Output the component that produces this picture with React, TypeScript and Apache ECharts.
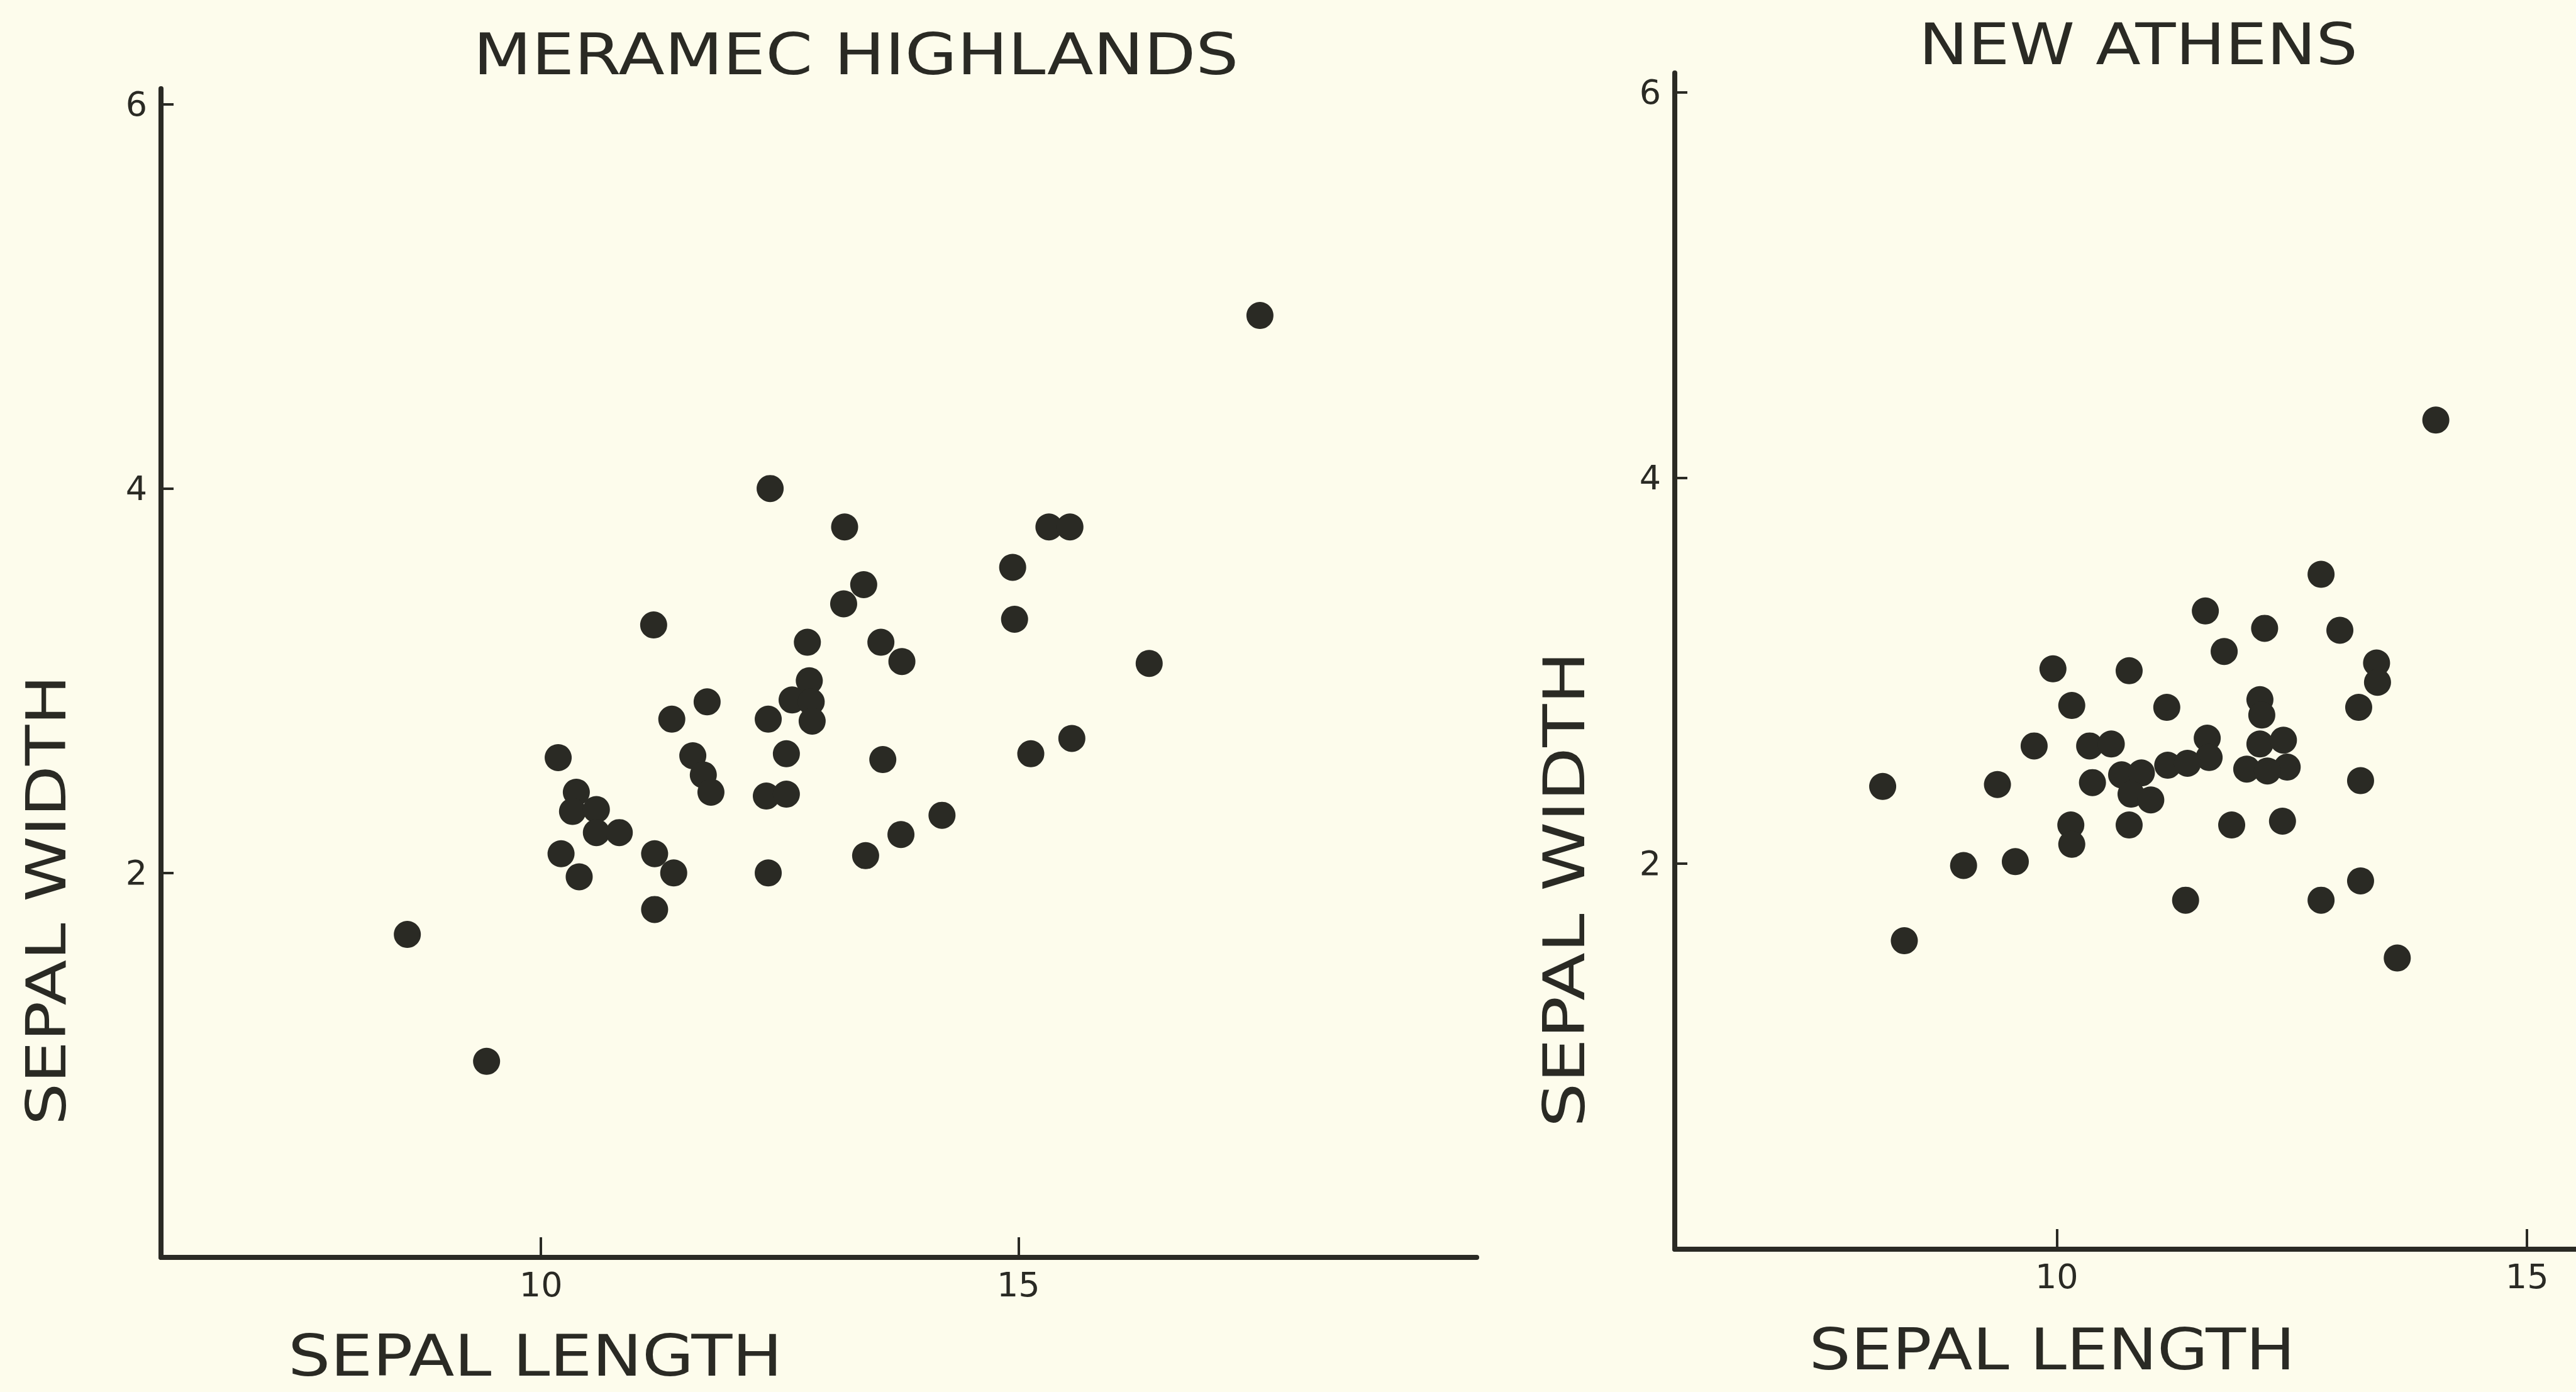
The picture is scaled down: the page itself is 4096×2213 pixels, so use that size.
import React, { useEffect, useRef } from "react";
import * as echarts from "echarts";

// Meramec Highlands: sepal length (x) and sepal width (y)
const meramecLength = [
  12.4, 13.18, 15.32, 15.54, 14.94, 13.38, 13.17, 11.18, 14.96, 12.79, 13.56, 13.78, 16.37,
  12.81, 12.63, 12.83, 12.84, 11.74, 11.37, 12.38, 10.18, 12.57, 13.58, 15.13, 15.56, 11.59,
  11.7, 11.78, 10.37, 10.33, 10.58, 10.58, 10.82, 12.36, 12.57, 14.2, 13.77, 13.4, 10.21,
  10.4, 11.19, 11.39, 12.38, 11.19, 9.43, 8.6, 17.53,
];
const meramecWidth = [
  4.0, 3.8, 3.8, 3.8, 3.59, 3.5, 3.4, 3.29, 3.32, 3.2, 3.2, 3.1, 3.09,
  3.0, 2.9, 2.89, 2.79, 2.89, 2.8, 2.8, 2.6, 2.62, 2.59, 2.62, 2.7, 2.61,
  2.51, 2.42, 2.42, 2.32, 2.33, 2.21, 2.21, 2.4, 2.41, 2.3, 2.2, 2.09, 2.1,
  1.98, 2.1, 2.0, 2.0, 1.81, 1.02, 1.68, 4.9,
];

// New Athens: sepal length (x) and sepal width (y)
const athensLength = [
  12.81, 11.58, 12.21, 13.01, 11.78, 9.96, 10.77, 13.4, 13.41, 10.16, 11.17, 12.16, 13.21,
  12.18, 9.76, 10.35, 10.58, 11.6, 11.62, 11.18, 11.39, 12.16, 12.41, 12.45, 12.02, 12.24,
  10.69, 10.9, 10.38, 10.79, 11.0, 8.15, 9.37, 13.23, 10.15, 10.16, 10.77, 11.86, 12.4,
  9.01, 9.56, 13.23, 11.37, 12.81, 8.38, 13.62, 14.03,
];
const athensWidth = [
  3.5, 3.31, 3.22, 3.21, 3.1, 3.01, 3.0, 3.04, 2.94, 2.82, 2.81, 2.85, 2.81,
  2.77, 2.61, 2.61, 2.62, 2.65, 2.55, 2.51, 2.52, 2.62, 2.64, 2.5, 2.49, 2.48,
  2.46, 2.47, 2.42, 2.36, 2.33, 2.4, 2.41, 2.43, 2.2, 2.1, 2.2, 2.2, 2.22,
  1.99, 2.01, 1.91, 1.81, 1.81, 1.6, 1.51, 4.3,
];

const xTickValues = [10, 15];
const yTickValues = [2, 4, 6];

const leftTitle = "MERAMEC HIGHLANDS";
const rightTitle = "NEW ATHENS";
const xName = "SEPAL LENGTH";
const yName = "SEPAL WIDTH";

const INK = "#2a2a24";
const BG = "#fdfcec";
const FONT = "DejaVu Sans";

function zip(a: number[], b: number[]) {
  return a.map((v, i) => [v, b[i]]);
}

function xAxisCfg(gridIndex: number, min: number, max: number) {
  return {
    gridIndex,
    type: "value",
    min,
    max,
    axisLine: { show: true, onZero: false, lineStyle: { color: INK, width: 8 } },
    axisTick: {
      show: true,
      inside: true,
      length: 32,
      customValues: xTickValues,
      lineStyle: { color: INK, width: 4 },
    },
    axisLabel: {
      show: true,
      customValues: xTickValues,
      margin: 16,
      fontSize: 54,
      fontFamily: FONT,
      color: INK,
    },
    splitLine: { show: false },
  };
}

function yAxisCfg(gridIndex: number, max: number) {
  return {
    gridIndex,
    type: "value",
    min: 0,
    max,
    axisLine: { show: true, onZero: false, lineStyle: { color: INK, width: 8 } },
    axisTick: {
      show: true,
      inside: true,
      length: 20,
      customValues: yTickValues,
      lineStyle: { color: INK, width: 4 },
    },
    axisLabel: {
      show: true,
      customValues: yTickValues,
      margin: 22,
      fontSize: 54,
      fontFamily: FONT,
      color: INK,
    },
    splitLine: { show: false },
  };
}

function textEl(text: string, x: number, y: number, size: number, scaleX: number, rotation = 0) {
  return {
    type: "text",
    x,
    y,
    scaleX,
    rotation,
    style: {
      text,
      font: `${size}px "${FONT}"`,
      fill: INK,
      align: "center",
      verticalAlign: "middle",
      textAlign: "center",
      textVerticalAlign: "middle",
    },
  };
}

export default function App() {
  const ref = useRef<HTMLDivElement>(null);
  useEffect(() => {
    if (!ref.current) return;
    const chart = echarts.init(ref.current, undefined, { renderer: "svg" });
    chart.setOption({
      animation: false,
      backgroundColor: BG,
      grid: [
        { left: 256, top: 141, width: 2092, height: 1858, outerBoundsMode: "none", containLabel: false },
        { left: 2663, top: 116, width: 1433, height: 1870, outerBoundsMode: "none", containLabel: false },
      ],
      xAxis: [xAxisCfg(0, 6.02, 19.8), xAxisCfg(1, 5.94, 15.52)],
      yAxis: [yAxisCfg(0, 6.08), yAxisCfg(1, 6.1)],
      series: [
        {
          type: "scatter",
          xAxisIndex: 0,
          yAxisIndex: 0,
          data: zip(meramecLength, meramecWidth),
          symbol: "circle",
          symbolSize: 43,
          itemStyle: { color: INK, opacity: 1 },
        },
        {
          type: "scatter",
          xAxisIndex: 1,
          yAxisIndex: 1,
          data: zip(athensLength, athensWidth),
          symbol: "circle",
          symbolSize: 43,
          itemStyle: { color: INK, opacity: 1 },
        },
      ],
      graphic: [
        textEl(leftTitle, 1361, 86, 91, 1.18),
        textEl(rightTitle, 3400, 70, 91, 1.15),
        textEl(xName, 851, 2156, 90, 1.18),
        textEl(xName, 3263, 2146, 90, 1.16),
        textEl(yName, 74, 1431, 88, 1.2, Math.PI / 2),
        textEl(yName, 2488, 1414, 90, 1.24, Math.PI / 2),
      ],
    });
    return () => chart.dispose();
  }, []);
  return (
    <div
      ref={ref}
      style={{ position: "fixed", left: 0, top: 0, width: 4096, height: 2213, background: BG }}
    />
  );
}
